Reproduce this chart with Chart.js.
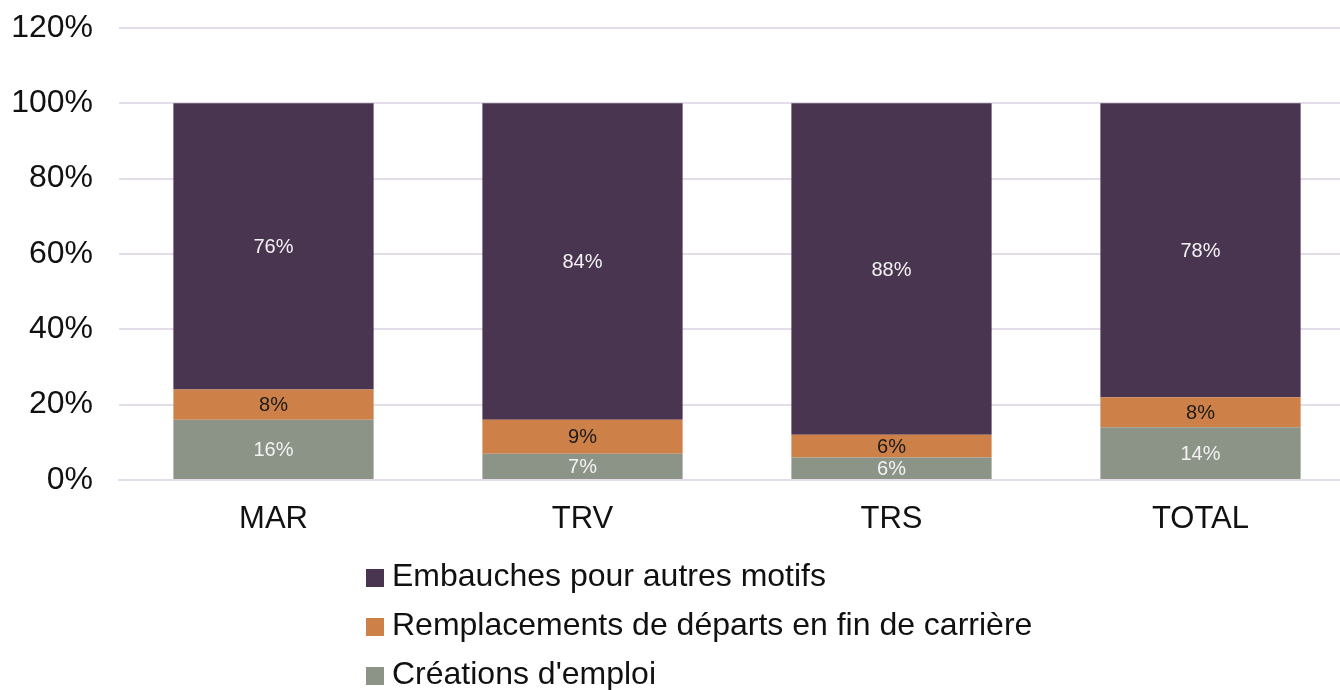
<!DOCTYPE html>
<html>
<head>
<meta charset="utf-8">
<script src="https://cdn.jsdelivr.net/npm/chart.js@4.4.0/dist/chart.umd.min.js"></script>
<style>
  html, body { margin: 0; padding: 0; background: #fff; overflow: hidden; width: 1340px; height: 690px; }
  #wrap { position: relative; width: 1340px; height: 690px; overflow: hidden; }
  #graph { position: absolute; left: 0; top: 0; }
  #legende { position: absolute; left: 366px; top: 553px; font-family: 'Liberation Sans', Arial, sans-serif; font-size: 32px; color: #111; }
  #legende div { height: 49px; line-height: 44px; white-space: nowrap; }
  #legende span.carre { display: inline-block; width: 18px; height: 18px; margin-right: 8px; vertical-align: -1px; }
</style>
</head>
<body>
<div id="wrap">
  <canvas id="graph" width="1355" height="690"></canvas>
  <div id="legende"></div>
</div>
<script>
// ..................les donnees........................
const categories = ['MAR', 'TRV', 'TRS', 'TOTAL'];
const creations = [16, 7, 6, 14];
const remplacements = [8, 9, 6, 8];
const embauches = [76, 84, 88, 78];
const yTicks = [0, 20, 40, 60, 80, 100, 120];

const couleurs = {
    creations: '#8C9488',
    remplacements: '#CD8048',
    embauches: '#4A3550'
};

// ..................etiquettes dans les barres........................
const etiquettes = {
    id: 'etiquettes',
    afterDatasetsDraw(chart) {
        const c = chart.ctx;
        c.save();
        c.font = '20px "Liberation Sans", Arial, sans-serif';
        c.textAlign = 'center';
        c.textBaseline = 'middle';
        chart.data.datasets.forEach((ds, i) => {
            const meta = chart.getDatasetMeta(i);
            meta.data.forEach((bar, j) => {
                c.fillStyle = ds.labelColor;
                c.fillText(ds.data[j] + '%', bar.x, (bar.y + bar.base) / 2 + 1);
            });
        });
        c.restore();
    }
};

const ctx = document.getElementById('graph').getContext('2d');
const chart = new Chart(ctx, {
    type: 'bar',
    data: {
        labels: categories,
        datasets: [{
            label: "Créations d'emploi",
            data: creations,
            backgroundColor: couleurs.creations,
            labelColor: '#F2F2F2'
        }, {
            label: 'Remplacements de départs en fin de carrière',
            data: remplacements,
            backgroundColor: couleurs.remplacements,
            labelColor: '#1A1A1A'
        }, {
            label: 'Embauches pour autres motifs',
            data: embauches,
            backgroundColor: couleurs.embauches,
            labelColor: '#F2F2F2'
        }]
    },
    options: {
        responsive: false,
        animation: false,
        layout: { padding: { top: 28, right: 0, left: 0, bottom: 0 } },
        plugins: {
            legend: { display: false },
            tooltip: { enabled: false }
        },
        datasets: {
            bar: { categoryPercentage: 1, barPercentage: 0.648 }
        },
        scales: {
            x: {
                stacked: true,
                grid: { display: false, drawTicks: false },
                border: { display: true, color: '#E2DDE8', width: 2 },
                ticks: {
                    color: '#111',
                    padding: 21,
                    font: { family: '"Liberation Sans", Arial, sans-serif', size: 31 }
                },
                afterFit(scale) { scale.height = 210; }
            },
            y: {
                stacked: true,
                min: 0,
                max: 120,
                afterBuildTicks(scale) { scale.ticks = yTicks.map(v => ({ value: v })); },
                grid: { color: '#E2DDE8', lineWidth: 2, drawTicks: false },
                border: { display: false },
                ticks: {
                    color: '#111',
                    padding: 26,
                    font: { family: '"Liberation Sans", Arial, sans-serif', size: 32 },
                    callback: v => v + '%'
                },
                afterFit(scale) {
                    scale.width = 119;
                    scale.paddingTop = 0;
                    scale.paddingBottom = 0;
                }
            }
        }
    },
    plugins: [etiquettes]
});

// ..................legende........................
const legende = document.getElementById('legende');
[...chart.data.datasets].reverse().forEach(ds => {
    const ligne = document.createElement('div');
    const carre = document.createElement('span');
    carre.className = 'carre';
    carre.style.background = ds.backgroundColor;
    ligne.appendChild(carre);
    ligne.appendChild(document.createTextNode(ds.label));
    legende.appendChild(ligne);
});
</script>
</body>
</html>
